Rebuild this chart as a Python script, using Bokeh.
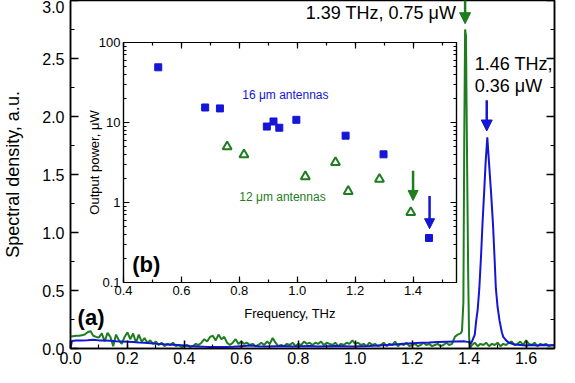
from bokeh.plotting import figure
from bokeh.models import (Range1d, LinearAxis, LogAxis, FixedTicker, SingleIntervalTicker,
                          CustomJSTickFormatter, PrintfTickFormatter, Arrow, NormalHead, GridBox, Column)
from bokeh.core.properties import value
from bokeh.embed import file_html
from bokeh.resources import INLINE

FONT = "Liberation Sans"
GREEN = "#1e7d1e"
BLUE = "#1515d6"

# ---- main spectrum (a): (frequency THz, spectral density a.u.) ----
green_spectrum = [
    (0.00, 0.105), (0.01, 0.105), (0.02, 0.11), (0.03, 0.11), (0.04, 0.115), (0.05, 0.12),
    (0.06, 0.14), (0.07, 0.15), (0.08, 0.11), (0.09, 0.10), (0.10, 0.095), (0.11, 0.13),
    (0.12, 0.06), (0.13, 0.135), (0.14, 0.10), (0.15, 0.02), (0.16, 0.12), (0.17, 0.07),
    (0.18, 0.04), (0.19, 0.10), (0.20, 0.14), (0.21, 0.08), (0.22, 0.13), (0.23, 0.05),
    (0.24, 0.12), (0.25, 0.06), (0.26, 0.09), (0.27, 0.05), (0.28, 0.07), (0.29, 0.04),
    (0.30, 0.06), (0.31, 0.03), (0.32, 0.05), (0.33, 0.02), (0.34, 0.04), (0.35, 0.03),
    (0.36, 0.05), (0.37, 0.02), (0.38, 0.03), (0.39, 0.01), (0.40, 0.02), (0.41, 0.03),
    (0.42, 0.01), (0.43, 0.02), (0.44, 0.04), (0.45, 0.03), (0.46, 0.05), (0.47, 0.08),
    (0.48, 0.06), (0.49, 0.10), (0.50, 0.11), (0.51, 0.07), (0.52, 0.12), (0.53, 0.08),
    (0.54, 0.10), (0.55, 0.05), (0.56, 0.03), (0.57, 0.05), (0.58, 0.08), (0.59, 0.04),
    (0.60, 0.06), (0.61, 0.04), (0.62, 0.05), (0.63, 0.03), (0.64, 0.04), (0.65, 0.02),
    (0.66, 0.03), (0.67, 0.05), (0.68, 0.03), (0.69, 0.06), (0.70, 0.04), (0.71, 0.09),
    (0.72, 0.05), (0.73, 0.02), (0.74, 0.03), (0.75, 0.02), (0.76, 0.04), (0.77, 0.03),
    (0.78, 0.05), (0.79, 0.02), (0.80, 0.04), (0.81, 0.03), (0.82, 0.06), (0.83, 0.04),
    (0.84, 0.05), (0.85, 0.03), (0.86, 0.05), (0.87, 0.04), (0.88, 0.06), (0.89, 0.03),
    (0.90, 0.05), (0.91, 0.04), (0.92, 0.03), (0.93, 0.05), (0.94, 0.02), (0.95, 0.04),
    (0.96, 0.03), (0.97, 0.05), (0.98, 0.04), (0.99, 0.07), (1.00, 0.04), (1.01, 0.05),
    (1.02, 0.03), (1.03, 0.04), (1.04, 0.02), (1.05, 0.05), (1.06, 0.03), (1.07, 0.04),
    (1.08, 0.02), (1.09, 0.03), (1.10, 0.05), (1.11, 0.02), (1.12, 0.04), (1.13, 0.03),
    (1.14, 0.06), (1.15, 0.02), (1.16, 0.04), (1.17, 0.03), (1.18, 0.05), (1.19, 0.02),
    (1.20, 0.03), (1.21, 0.04), (1.22, 0.02), (1.23, 0.03), (1.24, 0.05), (1.25, 0.03),
    (1.26, 0.04), (1.27, 0.02), (1.28, 0.03), (1.29, 0.04), (1.30, 0.02), (1.31, 0.03),
    (1.32, 0.05), (1.33, 0.03), (1.34, 0.04), (1.35, 0.10), (1.36, 0.12), (1.37, 0.13),
    (1.375, 0.15), (1.380, 0.40), (1.383, 1.80), (1.386, 2.75), (1.389, 2.70),
    (1.393, 1.60), (1.397, 0.60), (1.400, 0.10), (1.403, 0.00), (1.41, 0.03), (1.42, 0.05),
    (1.43, 0.02), (1.44, 0.04), (1.45, 0.03), (1.46, 0.05), (1.47, 0.02), (1.48, 0.04),
    (1.49, 0.03), (1.50, 0.05), (1.51, 0.02), (1.52, 0.04), (1.53, 0.03), (1.54, 0.05),
    (1.55, 0.06), (1.56, 0.03), (1.57, 0.04), (1.58, 0.06), (1.59, 0.03), (1.60, 0.07),
    (1.61, 0.04), (1.62, 0.03), (1.63, 0.05), (1.64, 0.02), (1.65, 0.04), (1.66, 0.03),
    (1.67, 0.04), (1.68, 0.02), (1.69, 0.03), (1.70, 0.03),
]

blue_spectrum = [
    (0.0, 0.0), (0.005, 0.065), (0.02, 0.068), (0.04, 0.07), (0.06, 0.072), (0.08, 0.075),
    (0.10, 0.07), (0.12, 0.068), (0.14, 0.066), (0.16, 0.062), (0.18, 0.06), (0.20, 0.058),
    (0.22, 0.055), (0.24, 0.052), (0.26, 0.05), (0.28, 0.046), (0.30, 0.042), (0.33, 0.037),
    (0.36, 0.033), (0.39, 0.028), (0.42, 0.022), (0.45, 0.018), (0.48, 0.014), (0.51, 0.012),
    (0.54, 0.012), (0.57, 0.015), (0.60, 0.02), (0.63, 0.025), (0.66, 0.02), (0.69, 0.018),
    (0.72, 0.02), (0.75, 0.022), (0.78, 0.018), (0.81, 0.02), (0.84, 0.022), (0.87, 0.018),
    (0.90, 0.02), (0.93, 0.022), (0.96, 0.02), (0.99, 0.018), (1.02, 0.02), (1.05, 0.022),
    (1.08, 0.025), (1.11, 0.03), (1.14, 0.035), (1.17, 0.04), (1.20, 0.045), (1.23, 0.05),
    (1.26, 0.052), (1.29, 0.055), (1.32, 0.058), (1.35, 0.06), (1.38, 0.062), (1.40, 0.055),
    (1.405, 0.04), (1.41, 0.06), (1.42, 0.12), (1.425, 0.24), (1.43, 0.33), (1.436, 0.52),
    (1.442, 0.80), (1.447, 1.07), (1.453, 1.35), (1.458, 1.60), (1.464, 1.82), (1.470, 1.60),
    (1.477, 1.35), (1.484, 1.07), (1.490, 0.75), (1.494, 0.52), (1.500, 0.36), (1.507, 0.24),
    (1.515, 0.14), (1.52, 0.10), (1.53, 0.07), (1.54, 0.05), (1.56, 0.035), (1.58, 0.03),
    (1.60, 0.025), (1.62, 0.03), (1.64, 0.025), (1.66, 0.03), (1.68, 0.028), (1.70, 0.025),
]

# ---- inset (b): output power vs frequency ----
ant16_freq = [0.52, 0.682, 0.733, 0.895, 0.918, 0.938, 0.997, 1.167, 1.298, 1.455]
ant16_power = [49.0, 15.4, 15.0, 8.9, 10.3, 8.6, 10.8, 6.85, 4.0, 0.36]
ant12_freq = [0.758, 0.816, 1.028, 1.132, 1.176, 1.284, 1.392]
ant12_power = [5.0, 3.95, 2.11, 3.17, 1.38, 1.96, 0.75]

inset_log_ticks = [0.1, 1, 10, 100]
inset_log_minor = [0.2, 0.3, 0.4, 0.5, 0.6, 0.7, 0.8, 0.9, 2, 3, 4, 5, 6, 7, 8, 9,
                   20, 30, 40, 50, 60, 70, 80, 90]

empty_fmt = CustomJSTickFormatter(code="return '';")
one_dec = PrintfTickFormatter(format="%.1f")

def style_axis(ax, size, tick_in, minor_in, standoff, width=1.5):
    ax.axis_line_width = width
    ax.major_tick_line_width = width
    ax.minor_tick_line_width = 1.2
    ax.major_tick_in = tick_in
    ax.major_tick_out = 0
    ax.minor_tick_in = minor_in
    ax.minor_tick_out = 0
    ax.major_label_text_font = FONT
    ax.major_label_text_font_size = size
    ax.major_label_text_color = "black"
    ax.major_label_standoff = standoff
    ax.axis_label_text_font = FONT
    ax.axis_label_text_font_style = "normal"
    ax.axis_label_text_color = "black"

# ---------------- main figure ----------------
p = figure(width=558, height=366, x_range=Range1d(0, 1.7), y_range=Range1d(0, 3.0),
           output_backend="svg", toolbar_location=None,
           min_border_left=66, min_border_right=4, min_border_top=0, min_border_bottom=0)
p.xgrid.visible = False
p.ygrid.visible = False
p.outline_line_color = "black"
p.outline_line_width = 1.5

xt = SingleIntervalTicker(interval=0.2, num_minor_ticks=2)
yt = SingleIntervalTicker(interval=0.5, num_minor_ticks=2)
p.xaxis.ticker = xt
p.yaxis.ticker = yt
p.xaxis.formatter = one_dec
p.yaxis.formatter = one_dec
style_axis(p.xaxis[0], "16px", 8, 4, 3)
style_axis(p.yaxis[0], "16px", 8, 4, 6)
p.xaxis.axis_label = None
p.yaxis.axis_label = "Spectral density, a.u."
p.yaxis.axis_label_text_font_size = "18px"
p.yaxis.axis_label_standoff = 16

right_ax = LinearAxis(ticker=yt, formatter=empty_fmt, axis_label=None)
style_axis(right_ax, "10px", 8, 4, 0)
p.add_layout(right_ax, "right")

gx = [a for a, b in green_spectrum]
gy = [b for a, b in green_spectrum]
bx = [a for a, b in blue_spectrum]
by = [b for a, b in blue_spectrum]
p.line(gx, gy, line_color=GREEN, line_width=2)
p.line(bx, by, line_color=BLUE, line_width=2)

p.add_layout(Arrow(end=NormalHead(size=11, fill_color=GREEN, line_color=GREEN),
                   x_start=1.386, y_start=3.1, x_end=1.386, y_end=2.8,
                   line_color=GREEN, line_width=2.5))
p.add_layout(Arrow(end=NormalHead(size=11, fill_color=BLUE, line_color=BLUE),
                   x_start=1.462, y_start=2.14, x_end=1.462, y_end=1.875,
                   line_color=BLUE, line_width=2.5))

p.text(x=[1.355], y=[2.89], text=["1.39 THz, 0.75 \u03bcW"], text_align="right",
       text_baseline="middle", text_font=value(FONT), text_font_size="18px", text_color="black")
p.text(x=[1.42, 1.42], y=[2.45, 2.265], text=["1.46 THz,", "0.36 \u03bcW"], text_align="left",
       text_baseline="middle", text_font=value(FONT), text_font_size="18px", text_color="black")
p.text(x=[0.025], y=[0.27], text=["(a)"], text_align="left", text_baseline="middle",
       text_font=value(FONT), text_font_size="22px", text_font_style="bold", text_color="black")

# ---------------- inset figure ----------------
inset = figure(width=399, height=293, x_range=Range1d(0.4, 1.55),
               y_range=Range1d(0.1, 100), y_axis_type="log",
               output_backend="svg", toolbar_location=None,
               min_border_left=62, min_border_right=4, min_border_top=9, min_border_bottom=44,
               background_fill_color="white", border_fill_alpha=0)
inset.xgrid.visible = False
inset.ygrid.visible = False
inset.outline_line_color = "black"
inset.outline_line_width = 1.2

ixt = SingleIntervalTicker(interval=0.2, num_minor_ticks=2)
iyt = FixedTicker(ticks=inset_log_ticks, minor_ticks=inset_log_minor)
inset.xaxis.ticker = ixt
inset.xaxis.formatter = one_dec
inset.yaxis.ticker = iyt
inset.yaxis.formatter = CustomJSTickFormatter(code="return String(tick);")
style_axis(inset.xaxis[0], "13px", 6, 3, 3, 1.2)
style_axis(inset.yaxis[0], "13px", 6, 3, 3, 1.2)
inset.xaxis.axis_label = "Frequency, THz"
inset.yaxis.axis_label = "Output power, \u03bcW"
inset.xaxis.axis_label_text_font_size = "13px"
inset.yaxis.axis_label_text_font_size = "13px"
inset.xaxis.axis_label_standoff = 8
inset.yaxis.axis_label_standoff = -6

top_ax = LinearAxis(ticker=ixt, formatter=empty_fmt, axis_label=None)
style_axis(top_ax, "8px", 6, 3, 0, 1.2)
inset.add_layout(top_ax, "above")
r_ax = LogAxis(ticker=iyt, formatter=empty_fmt, axis_label=None)
style_axis(r_ax, "8px", 6, 3, 0, 1.2)
inset.add_layout(r_ax, "right")

inset.scatter(ant16_freq, ant16_power, marker="square", size=7, fill_color=BLUE, line_color=BLUE)
inset.scatter(ant12_freq, ant12_power, marker="triangle", size=9, fill_color="white",
              line_color=GREEN, line_width=2)

inset.add_layout(Arrow(end=NormalHead(size=10, fill_color=GREEN, line_color=GREEN),
                       x_start=1.40, y_start=2.5, x_end=1.40, y_end=1.06,
                       line_color=GREEN, line_width=2.5))
inset.add_layout(Arrow(end=NormalHead(size=10, fill_color=BLUE, line_color=BLUE),
                       x_start=1.457, y_start=1.21, x_end=1.457, y_end=0.47,
                       line_color=BLUE, line_width=2.5))

inset.text(x=[0.81], y=[22], text=["16 \u03bcm antennas"], text_align="left", text_baseline="middle",
           text_font=value(FONT), text_font_size="12px", text_color=BLUE)
inset.text(x=[0.80], y=[1.18], text=["12 \u03bcm antennas"], text_align="left", text_baseline="middle",
           text_font=value(FONT), text_font_size="12px", text_color=GREEN)
inset.text(x=[0.43], y=[0.166], text=["(b)"], text_align="left", text_baseline="middle",
           text_font=value(FONT), text_font_size="22px", text_font_style="bold", text_color="black")

inset_box = Column(children=[inset], margin=(33, 0, 0, 61))

layout = GridBox(children=[(p, 0, 0), (inset_box, 0, 0)])

open("out.html", "w").write(file_html(layout, INLINE))
